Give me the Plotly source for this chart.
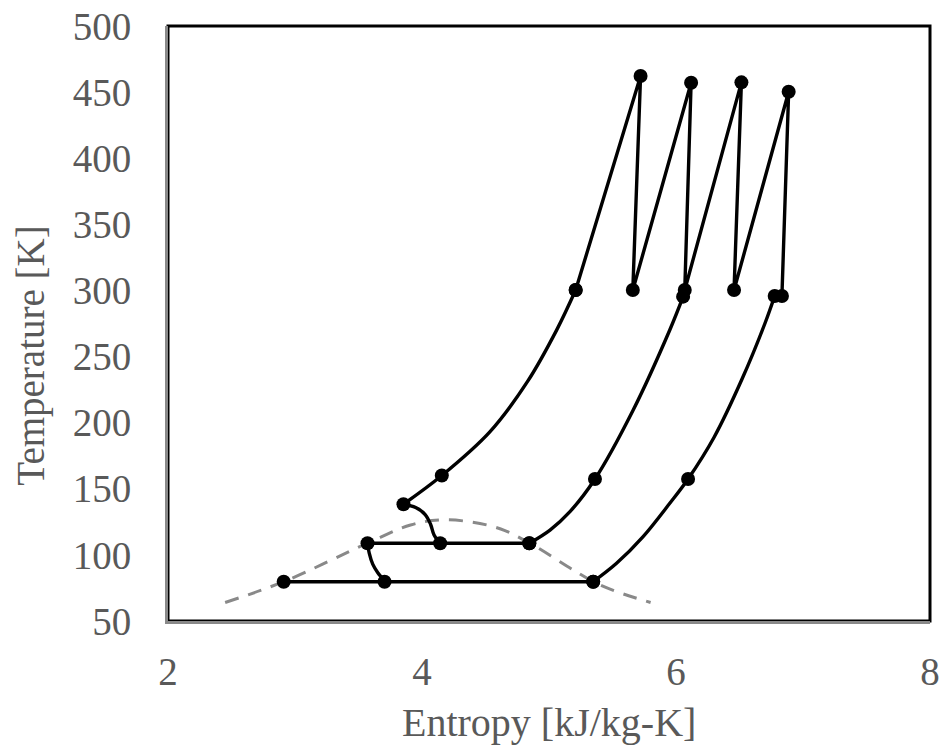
import plotly.graph_objects as go

# ---- data ----
# saturation dome (dashed gray)
dome_s = [2.45, 2.91, 3.57, 3.91, 4.14, 4.38, 4.62, 4.85, 5.19, 5.35, 5.54, 5.80]
dome_T = [64.0, 79.7, 108.8, 122.6, 126.4, 125.0, 119.6, 108.8, 88.6, 79.7, 72.0, 64.0]

# state points (markers) on the three cooling curves
c1_s = [3.854, 4.156, 5.210]
c1_T = [138.3, 160.0, 300.3]
c2_s = [4.845, 5.362, 6.056]
c2_T = [108.8, 157.4, 295.3]
c3_s = [5.348, 6.095, 6.777]
c3_T = [79.7, 157.4, 295.8]

# cooling curves (through the state points)
c1_line_s = [3.854, 4.156, 4.536, 4.830, 5.060, 5.210]
c1_line_T = [138.3, 160.0, 193.2, 231.0, 270.0, 300.3]
c2_line_s = [4.845, 5.008, 5.165, 5.362, 5.663, 5.951, 6.056]
c2_line_T = [108.8, 118.8, 132.7, 157.4, 209.6, 270.1, 295.3]
c3_line_s = [5.348, 5.532, 5.741, 5.951, 6.095, 6.300, 6.520, 6.700, 6.777]
c3_line_T = [79.7, 93.6, 113.8, 139.0, 157.4, 189.0, 233.0, 275.0, 295.8]

# compression / intercooling zigzag
zz_s = [5.210, 5.721, 5.660, 6.119, 6.069, 6.515, 6.457, 6.887, 6.834]
zz_T = [300.3, 462.2, 300.3, 457.1, 300.3, 457.4, 300.3, 450.3, 295.8]

# constant-temperature lines
h1_s = [3.571, 4.143, 4.845]
h1_T = [108.8, 108.8, 108.8]
h2_s = [2.911, 3.705, 5.348]
h2_T = [79.7, 79.7, 79.7]

# expansion curves (lines only)
e1_s = [3.854, 3.950, 4.025, 4.068, 4.095, 4.143]
e1_T = [138.3, 135.8, 130.5, 123.0, 115.0, 108.8]
e2_s = [3.571, 3.584, 3.612, 3.652, 3.686, 3.705]
e2_T = [108.8, 101.5, 93.0, 86.5, 82.5, 79.7]

x_ticks = [2, 4, 6, 8]
y_ticks = [50, 100, 150, 200, 250, 300, 350, 400, 450, 500]

BLACK = "#000000"
GRAY = "#898989"
LABEL = "#595959"
FONT = "Liberation Serif"
LW = 3.4
MS = 14

fig = go.Figure()

fig.add_trace(go.Scatter(x=dome_s, y=dome_T, mode="lines",
                         line=dict(color=GRAY, width=3, dash="14px,10px", shape="spline", smoothing=1.0),
                         hoverinfo="skip"))

for xs, ys in [(e1_s, e1_T), (e2_s, e2_T),
               (c1_line_s, c1_line_T), (c2_line_s, c2_line_T), (c3_line_s, c3_line_T)]:
    fig.add_trace(go.Scatter(x=xs, y=ys, mode="lines",
                             line=dict(color=BLACK, width=LW, shape="spline", smoothing=1.0)))

for xs, ys in [(c1_s, c1_T), (c2_s, c2_T), (c3_s, c3_T)]:
    fig.add_trace(go.Scatter(x=xs, y=ys, mode="markers",
                             marker=dict(color=BLACK, size=MS)))

for xs, ys in [(zz_s, zz_T), (h1_s, h1_T), (h2_s, h2_T)]:
    fig.add_trace(go.Scatter(x=xs, y=ys, mode="lines+markers",
                             line=dict(color=BLACK, width=LW),
                             marker=dict(color=BLACK, size=MS)))

W, H = 947, 746
L, R, T, B = 167.5, 16.5, 26, 125

fig.update_layout(
    width=W, height=H,
    margin=dict(l=L, r=R, t=T, b=B, pad=0, autoexpand=False),
    paper_bgcolor="white", plot_bgcolor="white",
    showlegend=False,
    font=dict(family=FONT, color=LABEL, size=39),
    xaxis=dict(range=[2, 8], tickvals=x_ticks, ticktext=[str(v) for v in x_ticks],
               showgrid=False, zeroline=False, ticks="", automargin=False,
               showline=True, linecolor=GRAY, linewidth=3,
               tickfont=dict(family=FONT, size=39, color=LABEL),
               ticklabelstandoff=14),
    yaxis=dict(range=[50, 500], tickvals=y_ticks, ticktext=[str(v) for v in y_ticks],
               showgrid=False, zeroline=False, ticks="", automargin=False,
               showline=True, linecolor=GRAY, linewidth=3,
               tickfont=dict(family=FONT, size=39, color=LABEL),
               ticklabelstandoff=26),
    shapes=[dict(type="rect", xref="paper", yref="paper", x0=0, x1=1, y0=0, y1=1,
                 line=dict(color=BLACK, width=3), layer="below")],
    annotations=[
        dict(text="Entropy [kJ/kg-K]", xref="paper", yref="paper",
             x=0.5, y=(H - B - 722) / (H - T - B), xanchor="center", yanchor="middle",
             showarrow=False, font=dict(family=FONT, size=40, color=LABEL)),
        dict(text="Temperature [K]", xref="paper", yref="paper",
             x=(30 - L) / (W - L - R), y=(H - B - 356) / (H - T - B),
             xanchor="center", yanchor="middle", textangle=-90,
             showarrow=False, font=dict(family=FONT, size=39, color=LABEL)),
    ],
)

fig.write_html("out.html", config={"displayModeBar": False},
               post_script="document.body.style.margin='0';document.body.style.overflow='hidden';")
